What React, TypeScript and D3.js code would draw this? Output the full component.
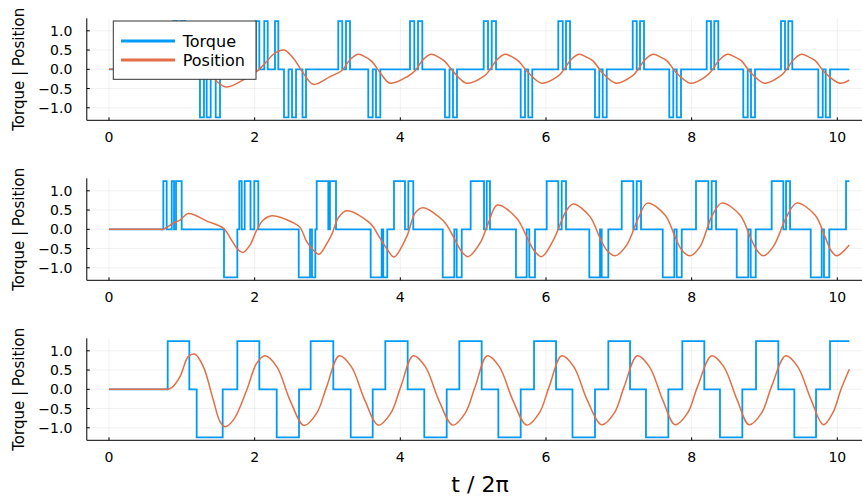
import React from 'react';
import * as d3 from 'd3';

const W = 862;
const H = 499;

const xTicks = [0, 2, 4, 6, 8, 10];
const xTickLabels = ['0', '2', '4', '6', '8', '10'];
const yTicks = [-1, -0.5, 0, 0.5, 1];
const yTickLabels = ['−1.0', '−0.5', '0.0', '0.5', '1.0'];
const seriesNames = ['Torque', 'Position'];
const xLabel = 't / 2π';
const yLabel = 'Torque | Position';

// ---- top panel ----
const topTorqueT = [0, 0.883, 0.941, 0.982, 1.044, 1.249, 1.304, 1.341, 1.396, 1.465, 1.524,
  2.018, 2.064, 2.132, 2.179, 2.279, 2.325, 2.403, 2.465, 2.513, 2.568, 2.657, 2.705,
  3.148, 3.203, 3.254, 3.309, 3.560, 3.621, 3.666, 3.725,
  4.133, 4.192, 4.243, 4.302, 4.613, 4.675, 4.723, 4.778,
  5.145, 5.204, 5.255, 5.314, 5.653, 5.712, 5.757, 5.812,
  6.169, 6.230, 6.275, 6.330, 6.673, 6.732, 6.779, 6.834,
  7.191, 7.246, 7.291, 7.346, 7.693, 7.748, 7.795, 7.854,
  8.207, 8.266, 8.311, 8.366, 8.709, 8.770, 8.815, 8.870,
  9.227, 9.282, 9.327, 9.382, 9.739, 9.800, 9.841, 9.900, 10.165];
const topTorqueV = [0, 1.25, 0, 1.25, 0, -1.25, 0, -1.25, 0, -1.25, 0,
  1.25, 0, 1.25, 0, 1.25, 0, -1.25, 0, -1.25, 0, -1.25, 0,
  1.25, 0, 1.25, 0, -1.25, 0, -1.25, 0,
  1.25, 0, 1.25, 0, -1.25, 0, -1.25, 0,
  1.25, 0, 1.25, 0, -1.25, 0, -1.25, 0,
  1.25, 0, 1.25, 0, -1.25, 0, -1.25, 0,
  1.25, 0, 1.25, 0, -1.25, 0, -1.25, 0,
  1.25, 0, 1.25, 0, -1.25, 0, -1.25, 0,
  1.25, 0, 1.25, 0, -1.25, 0, -1.25, 0, 0];
const topPosT = [0, 0.84, 0.883, 1.044, 1.249, 1.442, 1.606, 1.840, 2.025, 2.165, 2.256, 2.403, 2.531, 2.668, 2.805,
  3.035, 3.199, 3.309, 3.419, 3.529, 3.611, 3.721, 3.858,
  4.106, 4.202, 4.312, 4.421, 4.531, 4.614, 4.737, 4.909,
  5.149, 5.218, 5.328, 5.437, 5.547, 5.630, 5.753, 5.939,
  6.165, 6.234, 6.344, 6.454, 6.563, 6.646, 6.769, 6.962,
  7.181, 7.250, 7.360, 7.470, 7.580, 7.662, 7.785, 7.985,
  8.197, 8.273, 8.383, 8.493, 8.603, 8.685, 8.808, 9.001,
  9.214, 9.289, 9.399, 9.509, 9.619, 9.701, 9.825, 10.031, 10.165];
const topPosV = [0, 0, 0, 0.08, 0.1, -0.25, -0.46, -0.28, -0.06, 0.2, 0.39, 0.5, 0.29, -0.1, -0.39,
  -0.19, -0.03, 0.25, 0.39, 0.31, 0.2, -0.08, -0.36,
  -0.18, -0.04, 0.25, 0.39, 0.31, 0.2, -0.08, -0.36,
  -0.18, -0.04, 0.25, 0.39, 0.31, 0.2, -0.08, -0.36,
  -0.18, -0.04, 0.25, 0.39, 0.31, 0.22, -0.08, -0.36,
  -0.18, -0.04, 0.25, 0.39, 0.31, 0.22, -0.08, -0.36,
  -0.18, -0.04, 0.25, 0.39, 0.31, 0.22, -0.08, -0.36,
  -0.18, -0.04, 0.25, 0.39, 0.31, 0.22, -0.08, -0.36, -0.28];

// ---- middle panel ----
const midTorqueT = [0, 0.746, 0.792, 0.861, 0.893, 0.920, 0.998, 1.579, 1.762, 1.789, 1.822, 1.863, 1.943, 1.995, 2.050,
  2.605, 2.760, 2.787, 2.833, 2.852, 3.011, 3.034, 3.117,
  3.593, 3.744, 3.766, 3.821, 3.913, 4.064, 4.110, 4.178,
  4.582, 4.741, 4.774, 4.843, 4.966, 5.149, 5.186, 5.231,
  5.588, 5.735, 5.771, 5.849, 6.010, 6.169, 6.216, 6.275,
  6.595, 6.742, 6.765, 6.856, 7.040, 7.199, 7.246, 7.305,
  7.603, 7.762, 7.795, 7.864, 8.060, 8.229, 8.275, 8.335,
  8.619, 8.778, 8.811, 8.880, 9.099, 9.259, 9.296, 9.351,
  9.635, 9.786, 9.817, 9.890, 10.120, 10.165];
const midTorqueV = [0, 1.25, 0, 1.25, 0, 1.25, 0, -1.25, 0, 1.25, 0, 1.25, 0, 1.25, 0,
  -1.25, 0, -1.25, 0, 1.25, 0, 1.25, 0,
  -1.25, 0, -1.25, 0, 1.25, 0, 1.25, 0,
  -1.25, 0, -1.25, 0, 1.25, 0, 1.25, 0,
  -1.25, 0, -1.25, 0, 1.25, 0, 1.25, 0,
  -1.25, 0, -1.25, 0, 1.25, 0, 1.25, 0,
  -1.25, 0, -1.25, 0, 1.25, 0, 1.25, 0,
  -1.25, 0, -1.25, 0, 1.25, 0, 1.25, 0,
  -1.25, 0, -1.25, 0, 1.25, 1.25];
const midPosT = [0, 0.70, 0.746, 0.883, 0.975, 1.089, 1.359, 1.569, 1.689, 1.758, 1.840, 1.936, 2.028, 2.119, 2.234,
  2.531, 2.623, 2.715, 2.805, 2.884, 2.989, 3.062, 3.149, 3.264,
  3.584, 3.721, 3.831, 3.913, 4.088, 4.202, 4.307,
  4.590, 4.727, 4.843, 4.933, 5.094, 5.208, 5.332,
  5.598, 5.735, 5.836, 5.941, 6.101, 6.285, 6.375,
  6.604, 6.742, 6.838, 6.948, 7.108, 7.268, 7.391,
  7.634, 7.772, 7.868, 7.978, 8.115, 8.275, 8.413,
  8.664, 8.802, 8.898, 8.984, 9.121, 9.305, 9.443,
  9.694, 9.831, 9.913, 9.992, 10.165];
const midPosV = [0, 0, 0, 0.16, 0.24, 0.41, 0.2, 0.03, -0.3, -0.5, -0.6, -0.41, -0.02, 0.24, 0.35,
  0.17, 0.05, -0.32, -0.54, -0.65, -0.38, -0.12, 0.3, 0.48,
  0.16, -0.23, -0.55, -0.72, -0.19, 0.42, 0.56,
  0.22, -0.19, -0.58, -0.71, -0.36, 0.16, 0.63,
  0.29, -0.19, -0.55, -0.71, -0.28, 0.5, 0.66,
  0.33, -0.23, -0.55, -0.69, -0.41, 0.29, 0.68,
  0.37, -0.19, -0.55, -0.69, -0.45, 0.33, 0.68,
  0.37, -0.19, -0.55, -0.69, -0.45, 0.33, 0.68,
  0.37, -0.19, -0.55, -0.69, -0.41];

// ---- bottom panel ----
const botTorqueT = [0, 0.806, 1.103, 1.204, 1.561, 1.762, 2.064, 2.303, 2.609, 2.769, 3.080, 3.319, 3.621,
  3.794, 4.101, 4.329, 4.637, 4.810, 5.117, 5.346, 5.653, 5.836, 6.138, 6.364, 6.673,
  6.856, 7.154, 7.373, 7.680, 7.872, 8.174, 8.389, 8.696, 8.884, 9.190, 9.410, 9.708, 9.900, 10.165];
const botTorqueV = [0, 1.25, 0, -1.25, 0, 1.25, 0, -1.25, 0, 1.25, 0, -1.25, 0,
  1.25, 0, -1.25, 0, 1.25, 0, -1.25, 0, 1.25, 0, -1.25, 0,
  1.25, 0, -1.25, 0, 1.25, 0, -1.25, 0, 1.25, 0, -1.25, 0, 1.25, 1.25];
const botPosT = [0, 0.77, 0.806, 0.865, 0.975, 1.089, 1.181, 1.295, 1.432, 1.524, 1.593, 1.707, 1.891, 2.028, 2.142,
  2.303, 2.485, 2.678, 2.852, 2.989, 3.162, 3.327, 3.512, 3.698, 3.869, 4.007, 4.178,
  4.343, 4.528, 4.719, 4.891, 5.028, 5.194, 5.359, 5.544, 5.735, 5.907, 6.044, 6.216,
  6.381, 6.566, 6.765, 6.937, 7.074, 7.254, 7.419, 7.604, 7.772, 7.943, 8.081, 8.275,
  8.440, 8.626, 8.788, 8.959, 9.097, 9.291, 9.456, 9.642, 9.808, 9.941, 10.051, 10.165];
const botPosV = [0, 0, 0, 0.05, 0.33, 0.85, 0.91, 0.59, -0.28, -0.84, -0.97, -0.8, -0.02, 0.68, 0.87,
  0.59, -0.28, -0.94, -0.62, 0.07, 0.87, 0.59, -0.28, -0.93, -0.62, 0.07, 0.87,
  0.59, -0.28, -0.93, -0.62, 0.07, 0.87, 0.59, -0.28, -0.93, -0.62, 0.07, 0.87,
  0.59, -0.28, -0.92, -0.62, 0.07, 0.87, 0.59, -0.28, -0.92, -0.62, 0.07, 0.87,
  0.59, -0.28, -0.92, -0.62, 0.07, 0.87, 0.59, -0.28, -0.92, -0.6, 0.0, 0.52];

const panels = [
  { torqueT: topTorqueT, torqueV: topTorqueV, posT: topPosT, posV: topPosV },
  { torqueT: midTorqueT, torqueV: midTorqueV, posT: midPosT, posV: midPosV },
  { torqueT: botTorqueT, torqueV: botTorqueV, posT: botPosT, posV: botPosV },
];

const BLUE = '#009af9';
const ORANGE = '#e26f46';
const FONT = 'DejaVu Sans, sans-serif';

const x = d3.scaleLinear().domain([0, 10]).range([109, 837.3]);
const X0 = x(-0.305);
const X1 = x(10.47);
const panelTops = [18.3, 178.3, 338.3];
const PH = 102;

function Panel({ idx }: { idx: number }) {
  const p = panels[idx];
  const top = panelTops[idx];
  const bottom = top + PH;
  const y = d3.scaleLinear().domain([-1.325, 1.325]).range([bottom, top]);
  const torquePts: [number, number][] = p.torqueT.map((t, i) => [t, p.torqueV[i]]);
  const posPts: [number, number][] = p.posT.map((t, i) => [t, p.posV[i]]);
  const stepLine = d3.line<[number, number]>().x(d => x(d[0])).y(d => y(d[1])).curve(d3.curveStepAfter);
  const smoothLine = d3.line<[number, number]>().x(d => x(d[0])).y(d => y(d[1])).curve(d3.curveCatmullRom.alpha(0.5));
  return (
    <g>
      {xTicks.map(t => (
        <line key={'gx' + t} x1={x(t)} x2={x(t)} y1={top} y2={bottom} stroke="#000" strokeOpacity={0.1} strokeWidth={0.6} />
      ))}
      {yTicks.map(v => (
        <line key={'gy' + v} x1={X0} x2={X1} y1={y(v)} y2={y(v)} stroke="#000" strokeOpacity={0.1} strokeWidth={0.6} />
      ))}
      <path d={stepLine(torquePts) || ''} fill="none" stroke={BLUE} strokeWidth={1.8} />
      <path d={smoothLine(posPts) || ''} fill="none" stroke={ORANGE} strokeWidth={1.5} />
      <line x1={X0} x2={X1} y1={bottom} y2={bottom} stroke="#000" strokeWidth={1} />
      <line x1={X0} x2={X0} y1={top} y2={bottom} stroke="#000" strokeWidth={1} />
      {xTicks.map(t => (
        <line key={'tx' + t} x1={x(t)} x2={x(t)} y1={bottom} y2={bottom - 3} stroke="#000" strokeWidth={1} />
      ))}
      {yTicks.map(v => (
        <line key={'ty' + v} x1={X0} x2={X0 + 3} y1={y(v)} y2={y(v)} stroke="#000" strokeWidth={1} />
      ))}
      {xTicks.map((t, i) => (
        <text key={'lx' + t} x={x(t)} y={bottom + 21.4} textAnchor="middle" fontSize={14} fontFamily={FONT} fill="#000">{xTickLabels[i]}</text>
      ))}
      {yTicks.map((v, i) => (
        <text key={'ly' + v} x={72.3} y={y(v) + 5} textAnchor="end" fontSize={14} fontFamily={FONT} fill="#000">{yTickLabels[i]}</text>
      ))}
      <text transform={`translate(24,${top + PH / 2}) rotate(-90)`} textAnchor="middle" fontSize={15} fontFamily={FONT} fill="#000">{yLabel}</text>
    </g>
  );
}

function Legend() {
  const colors = [BLUE, ORANGE];
  const rowsY = [41, 60];
  return (
    <g>
      <rect x={113.3} y={21} width={142.7} height={58.3} fill="#fff" stroke="#333" strokeWidth={1} />
      {seriesNames.map((n, i) => (
        <g key={n}>
          <line x1={121} x2={175} y1={rowsY[i]} y2={rowsY[i]} stroke={colors[i]} strokeWidth={3} />
          <text x={182.7} y={rowsY[i] + 5.8} fontSize={16} fontFamily={FONT} fill="#000">{n}</text>
        </g>
      ))}
    </g>
  );
}

export default function App() {
  return (
    <svg width={W} height={H} style={{ position: 'absolute', left: 0, top: 0, background: '#fff' }}>
      <rect x={0} y={0} width={W} height={H} fill="#fff" />
      {panels.map((_, i) => <Panel key={i} idx={i} />)}
      <text x={480} y={492.3} textAnchor="middle" fontSize={22} fontFamily={FONT} fill="#000">{xLabel}</text>
      <Legend />
    </svg>
  );
}
